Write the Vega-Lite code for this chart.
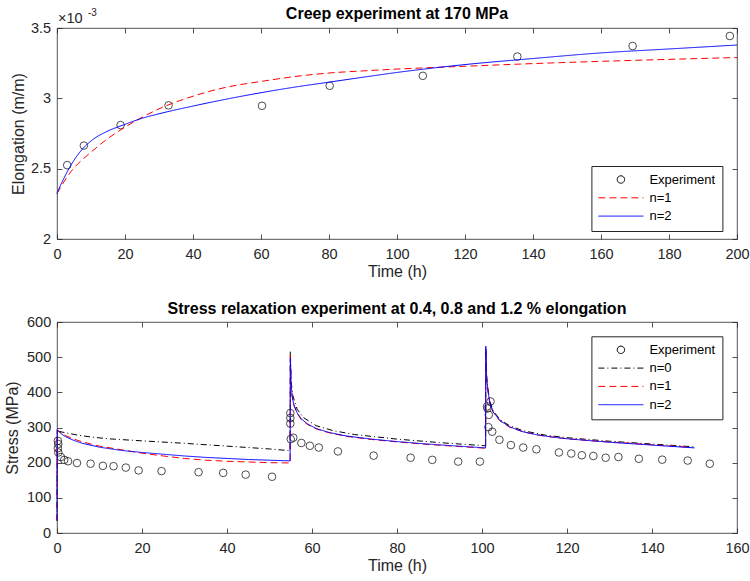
{
  "$schema": "https://vega.github.io/schema/vega-lite/v6.json",
  "padding": {"left": 4, "top": 5, "right": 0, "bottom": 0},
  "config": {
    "font": "Liberation Sans",
    "view": {"stroke": "#262626", "strokeWidth": 0.8},
    "axis": {"grid": false, "domain": false, "tickSize": -5, "tickColor": "#262626", "tickWidth": 0.8,
      "labelFont": "Liberation Sans", "labelFontSize": 14.5, "labelColor": "#262626",
      "titleFont": "Liberation Sans", "titleFontSize": 16, "titleFontWeight": "normal", "titleColor": "#262626",
      "labelFlush": false, "labelOverlap": false},
    "axisX": {"labelPadding": 13, "titlePadding": 3},
    "axisY": {"labelPadding": 11.3, "titlePadding": 6},
    "title": {"font": "Liberation Sans", "fontSize": 16, "fontWeight": "bold", "color": "#000000", "frame": "group", "anchor": "middle"},
    "legend": {"labelFont": "Liberation Sans", "labelFontSize": 13, "labelColor": "#000000", "strokeColor": "#262626", "fillColor": "#ffffff",
      "padding": 7, "rowPadding": 4.3, "symbolSize": 100, "symbolStrokeWidth": 1, "symbolOffset": 16, "labelOffset": 22}
  },
  "spacing": 83,
  "bounds": "flush",
  "resolve": {"scale": {"color": "independent", "strokeDash": "independent", "x": "independent", "y": "independent"}},
  "vconcat": [
    {
      "width": 680, "height": 211,
      "title": {"text": "Creep experiment at 170 MPa", "offset": -14},
      "data": {"values": [
        {"series": "Experiment", "t": 3, "e": 0.002525},
        {"series": "Experiment", "t": 7.9, "e": 0.002664},
        {"series": "Experiment", "t": 18.7, "e": 0.00281},
        {"series": "Experiment", "t": 32.8, "e": 0.00295},
        {"series": "Experiment", "t": 60.3, "e": 0.002947},
        {"series": "Experiment", "t": 80.2, "e": 0.003089},
        {"series": "Experiment", "t": 107.6, "e": 0.00316},
        {"series": "Experiment", "t": 135.4, "e": 0.003297},
        {"series": "Experiment", "t": 169.3, "e": 0.003372},
        {"series": "Experiment", "t": 197.9, "e": 0.003443},
        {"series": "n=1", "t": 0, "e": 0.002323},
        {"series": "n=1", "t": 1, "e": 0.002365},
        {"series": "n=1", "t": 2, "e": 0.002405},
        {"series": "n=1", "t": 3.5, "e": 0.00246},
        {"series": "n=1", "t": 5, "e": 0.002505},
        {"series": "n=1", "t": 7.5, "e": 0.002565},
        {"series": "n=1", "t": 10, "e": 0.002617},
        {"series": "n=1", "t": 15, "e": 0.002715},
        {"series": "n=1", "t": 20, "e": 0.002795},
        {"series": "n=1", "t": 25, "e": 0.002865},
        {"series": "n=1", "t": 30, "e": 0.002925},
        {"series": "n=1", "t": 40, "e": 0.003015},
        {"series": "n=1", "t": 50, "e": 0.00308},
        {"series": "n=1", "t": 60, "e": 0.00312},
        {"series": "n=1", "t": 70, "e": 0.003155},
        {"series": "n=1", "t": 80, "e": 0.00318},
        {"series": "n=1", "t": 90, "e": 0.003195},
        {"series": "n=1", "t": 100, "e": 0.003208},
        {"series": "n=1", "t": 120, "e": 0.003228},
        {"series": "n=1", "t": 140, "e": 0.003247},
        {"series": "n=1", "t": 160, "e": 0.003263},
        {"series": "n=1", "t": 180, "e": 0.003277},
        {"series": "n=1", "t": 200, "e": 0.00329},
        {"series": "n=2", "t": 0, "e": 0.002323},
        {"series": "n=2", "t": 1, "e": 0.00238},
        {"series": "n=2", "t": 2, "e": 0.00243},
        {"series": "n=2", "t": 3.5, "e": 0.0025},
        {"series": "n=2", "t": 5, "e": 0.00256},
        {"series": "n=2", "t": 7.5, "e": 0.00264},
        {"series": "n=2", "t": 10, "e": 0.002697},
        {"series": "n=2", "t": 15, "e": 0.002768},
        {"series": "n=2", "t": 20, "e": 0.002815},
        {"series": "n=2", "t": 25, "e": 0.002858},
        {"series": "n=2", "t": 30, "e": 0.00289},
        {"series": "n=2", "t": 40, "e": 0.002945},
        {"series": "n=2", "t": 50, "e": 0.002995},
        {"series": "n=2", "t": 60, "e": 0.00304},
        {"series": "n=2", "t": 70, "e": 0.00308},
        {"series": "n=2", "t": 80, "e": 0.003115},
        {"series": "n=2", "t": 90, "e": 0.00315},
        {"series": "n=2", "t": 100, "e": 0.003184},
        {"series": "n=2", "t": 120, "e": 0.00324},
        {"series": "n=2", "t": 140, "e": 0.003283},
        {"series": "n=2", "t": 160, "e": 0.003323},
        {"series": "n=2", "t": 180, "e": 0.003351},
        {"series": "n=2", "t": 200, "e": 0.003379}
      ]},
      "resolve": {"axis": {"x": "independent", "y": "independent"}},
      "layer": [
        {
          "transform": [{"filter": "datum.series === 'Experiment'"}],
          "mark": {"type": "point", "filled": false, "size": 58, "strokeWidth": 1},
          "encoding": {
            "x": {"field": "t", "type": "quantitative", "scale": {"domain": [0, 200], "nice": false}, "axis": {"orient": "bottom", "title": "Time (h)", "values": [0, 20, 40, 60, 80, 100, 120, 140, 160, 180, 200]}},
            "y": {"field": "e", "type": "quantitative", "scale": {"domain": [0.002, 0.0035], "nice": false, "zero": false}, "axis": {"orient": "left", "title": "Elongation (m/m)", "titlePadding": 4, "values": [0.002, 0.0025, 0.003, 0.0035], "labelExpr": "format(datum.value*1000, '~g')"}},
            "color": {"field": "series", "type": "nominal", "scale": {"domain": ["Experiment", "n=1", "n=2"], "range": ["#000000", "#ff0000", "#0000ff"]},
              "legend": {"title": null, "orient": "none", "legendX": 534.4, "legendY": 138,
                "encode": {"symbols": {"update": {"shape": {"signal": "datum.value === 'Experiment' ? 'M0.74,0A0.74,0.74,0,1,1,-0.74,0A0.74,0.74,0,1,1,0.74,0Z' : 'M-4.5,0L4.5,0'"}, "fill": {"value": "transparent"}, "strokeWidth": {"value": 1}}}}}}
          }
        },
        {
          "transform": [{"filter": "datum.series !== 'Experiment'"}],
          "mark": {"type": "line", "strokeWidth": 1, "interpolate": "monotone"},
          "encoding": {
            "x": {"field": "t", "type": "quantitative", "axis": {"orient": "top", "title": null, "labels": false, "values": [0, 20, 40, 60, 80, 100, 120, 140, 160, 180, 200]}},
            "y": {"field": "e", "type": "quantitative", "axis": {"orient": "right", "title": null, "labels": false, "values": [0.002, 0.0025, 0.003, 0.0035]}},
            "color": {"field": "series", "type": "nominal"},
            "strokeDash": {"field": "series", "type": "nominal", "scale": {"domain": ["Experiment", "n=1", "n=2"], "range": [[1, 0], [7, 4], [1, 0]]},
              "legend": {"title": null, "orient": "none", "legendX": 534.4, "legendY": 138,
                "encode": {"symbols": {"update": {"shape": {"signal": "datum.value === 'Experiment' ? 'M0.74,0A0.74,0.74,0,1,1,-0.74,0A0.74,0.74,0,1,1,0.74,0Z' : 'M-4.5,0L4.5,0'"}, "fill": {"value": "transparent"}, "strokeWidth": {"value": 1}}}}}}
          }
        },
        {
          "data": {"values": [{"label": "×10"}]},
          "mark": {"type": "text", "align": "left", "baseline": "alphabetic", "dx": 1, "dy": -5, "fontSize": 14.5, "color": "#262626"},
          "encoding": {
            "x": {"datum": 0, "type": "quantitative", "axis": null},
            "y": {"datum": 0.0035, "type": "quantitative", "axis": null},
            "text": {"field": "label"}
          }
        },
        {
          "data": {"values": [{"label": "-3"}]},
          "mark": {"type": "text", "align": "left", "baseline": "alphabetic", "dx": 31, "dy": -12, "fontSize": 10, "color": "#262626"},
          "encoding": {
            "x": {"datum": 0, "type": "quantitative", "axis": null},
            "y": {"datum": 0.0035, "type": "quantitative", "axis": null},
            "text": {"field": "label"}
          }
        }
      ]
    },
    {
      "width": 680, "height": 211,
      "title": {"text": "Stress relaxation experiment at 0.4, 0.8 and 1.2 % elongation", "offset": -3},
      "data": {"values": [
        {"series": "Experiment", "t": 0.2, "s": 262},
        {"series": "Experiment", "t": 0.3, "s": 253},
        {"series": "Experiment", "t": 0.2, "s": 241},
        {"series": "Experiment", "t": 0.3, "s": 229},
        {"series": "Experiment", "t": 0.9, "s": 216},
        {"series": "Experiment", "t": 1.7, "s": 208},
        {"series": "Experiment", "t": 2.6, "s": 204},
        {"series": "Experiment", "t": 4.7, "s": 199},
        {"series": "Experiment", "t": 7.9, "s": 197},
        {"series": "Experiment", "t": 10.8, "s": 191},
        {"series": "Experiment", "t": 13.3, "s": 190},
        {"series": "Experiment", "t": 16.2, "s": 186},
        {"series": "Experiment", "t": 19.2, "s": 178},
        {"series": "Experiment", "t": 24.6, "s": 176},
        {"series": "Experiment", "t": 33.3, "s": 173},
        {"series": "Experiment", "t": 39.1, "s": 171},
        {"series": "Experiment", "t": 44.4, "s": 166},
        {"series": "Experiment", "t": 50.6, "s": 160},
        {"series": "Experiment", "t": 54.9, "s": 341},
        {"series": "Experiment", "t": 54.9, "s": 327},
        {"series": "Experiment", "t": 54.9, "s": 311},
        {"series": "Experiment", "t": 55.0, "s": 267},
        {"series": "Experiment", "t": 55.6, "s": 271},
        {"series": "Experiment", "t": 57.5, "s": 256},
        {"series": "Experiment", "t": 59.5, "s": 248},
        {"series": "Experiment", "t": 61.6, "s": 243},
        {"series": "Experiment", "t": 66.1, "s": 232},
        {"series": "Experiment", "t": 74.5, "s": 220},
        {"series": "Experiment", "t": 83.2, "s": 214},
        {"series": "Experiment", "t": 88.3, "s": 208},
        {"series": "Experiment", "t": 94.4, "s": 203},
        {"series": "Experiment", "t": 99.5, "s": 203},
        {"series": "Experiment", "t": 101.2, "s": 360},
        {"series": "Experiment", "t": 101.3, "s": 354},
        {"series": "Experiment", "t": 101.6, "s": 336},
        {"series": "Experiment", "t": 102.0, "s": 374},
        {"series": "Experiment", "t": 101.5, "s": 301},
        {"series": "Experiment", "t": 102.4, "s": 288},
        {"series": "Experiment", "t": 104.1, "s": 265},
        {"series": "Experiment", "t": 106.8, "s": 250},
        {"series": "Experiment", "t": 109.7, "s": 243},
        {"series": "Experiment", "t": 112.8, "s": 238},
        {"series": "Experiment", "t": 118.1, "s": 229},
        {"series": "Experiment", "t": 121.0, "s": 226},
        {"series": "Experiment", "t": 123.5, "s": 221},
        {"series": "Experiment", "t": 126.2, "s": 219},
        {"series": "Experiment", "t": 129.1, "s": 214},
        {"series": "Experiment", "t": 132.1, "s": 216},
        {"series": "Experiment", "t": 136.9, "s": 211},
        {"series": "Experiment", "t": 142.4, "s": 208.5},
        {"series": "Experiment", "t": 148.4, "s": 206},
        {"series": "Experiment", "t": 153.6, "s": 197},
        {"series": "n=0", "t": 0, "s": 35},
        {"series": "n=0", "t": 0.05, "s": 290},
        {"series": "n=0", "t": 2, "s": 285},
        {"series": "n=0", "t": 5, "s": 278},
        {"series": "n=0", "t": 8, "s": 273},
        {"series": "n=0", "t": 12, "s": 268},
        {"series": "n=0", "t": 20, "s": 262},
        {"series": "n=0", "t": 30, "s": 255},
        {"series": "n=0", "t": 40, "s": 247},
        {"series": "n=0", "t": 50, "s": 239},
        {"series": "n=0", "t": 54.85, "s": 234},
        {"series": "n=0", "t": 54.9, "s": 519},
        {"series": "n=0", "t": 55.1, "s": 430},
        {"series": "n=0", "t": 55.5, "s": 390},
        {"series": "n=0", "t": 56.5, "s": 352},
        {"series": "n=0", "t": 58, "s": 328},
        {"series": "n=0", "t": 61, "s": 305},
        {"series": "n=0", "t": 65, "s": 291},
        {"series": "n=0", "t": 70, "s": 280},
        {"series": "n=0", "t": 80, "s": 267},
        {"series": "n=0", "t": 90, "s": 257},
        {"series": "n=0", "t": 100.85, "s": 248},
        {"series": "n=0", "t": 100.9, "s": 527},
        {"series": "n=0", "t": 101.1, "s": 445},
        {"series": "n=0", "t": 101.4, "s": 410},
        {"series": "n=0", "t": 101.8, "s": 377},
        {"series": "n=0", "t": 102.6, "s": 348},
        {"series": "n=0", "t": 104.2, "s": 323},
        {"series": "n=0", "t": 106.5, "s": 305},
        {"series": "n=0", "t": 109.6, "s": 291},
        {"series": "n=0", "t": 115, "s": 278},
        {"series": "n=0", "t": 120, "s": 271},
        {"series": "n=0", "t": 125, "s": 266},
        {"series": "n=0", "t": 130, "s": 261},
        {"series": "n=0", "t": 135, "s": 257},
        {"series": "n=0", "t": 140, "s": 253},
        {"series": "n=0", "t": 145, "s": 249},
        {"series": "n=0", "t": 150, "s": 245},
        {"series": "n=1", "t": 0, "s": 35},
        {"series": "n=1", "t": 0.05, "s": 292},
        {"series": "n=1", "t": 1, "s": 284},
        {"series": "n=1", "t": 2, "s": 277},
        {"series": "n=1", "t": 4, "s": 267},
        {"series": "n=1", "t": 6, "s": 259},
        {"series": "n=1", "t": 10, "s": 247},
        {"series": "n=1", "t": 15, "s": 237},
        {"series": "n=1", "t": 20, "s": 227},
        {"series": "n=1", "t": 25, "s": 219},
        {"series": "n=1", "t": 30, "s": 212},
        {"series": "n=1", "t": 35, "s": 207},
        {"series": "n=1", "t": 40, "s": 204},
        {"series": "n=1", "t": 45, "s": 202},
        {"series": "n=1", "t": 50, "s": 200},
        {"series": "n=1", "t": 54.85, "s": 199},
        {"series": "n=1", "t": 54.9, "s": 505},
        {"series": "n=1", "t": 55.1, "s": 418},
        {"series": "n=1", "t": 55.3, "s": 390},
        {"series": "n=1", "t": 55.7, "s": 364},
        {"series": "n=1", "t": 56.5, "s": 340},
        {"series": "n=1", "t": 57.5, "s": 322},
        {"series": "n=1", "t": 59, "s": 308},
        {"series": "n=1", "t": 61, "s": 296},
        {"series": "n=1", "t": 64, "s": 285},
        {"series": "n=1", "t": 68, "s": 275},
        {"series": "n=1", "t": 74, "s": 266},
        {"series": "n=1", "t": 80, "s": 259},
        {"series": "n=1", "t": 86, "s": 253},
        {"series": "n=1", "t": 92, "s": 248},
        {"series": "n=1", "t": 97, "s": 244},
        {"series": "n=1", "t": 100.85, "s": 241},
        {"series": "n=1", "t": 100.9, "s": 520},
        {"series": "n=1", "t": 101.1, "s": 438},
        {"series": "n=1", "t": 101.4, "s": 404},
        {"series": "n=1", "t": 101.8, "s": 371},
        {"series": "n=1", "t": 102.6, "s": 344},
        {"series": "n=1", "t": 104.2, "s": 319},
        {"series": "n=1", "t": 106.5, "s": 301},
        {"series": "n=1", "t": 109.6, "s": 288},
        {"series": "n=1", "t": 113, "s": 279},
        {"series": "n=1", "t": 117, "s": 272},
        {"series": "n=1", "t": 120, "s": 268},
        {"series": "n=1", "t": 125, "s": 263},
        {"series": "n=1", "t": 130, "s": 259},
        {"series": "n=1", "t": 135, "s": 255},
        {"series": "n=1", "t": 140, "s": 251},
        {"series": "n=1", "t": 145, "s": 247},
        {"series": "n=1", "t": 149, "s": 244},
        {"series": "n=2", "t": 0, "s": 35},
        {"series": "n=2", "t": 0.05, "s": 294},
        {"series": "n=2", "t": 1, "s": 282},
        {"series": "n=2", "t": 2, "s": 274},
        {"series": "n=2", "t": 4, "s": 263},
        {"series": "n=2", "t": 6, "s": 255},
        {"series": "n=2", "t": 10, "s": 244},
        {"series": "n=2", "t": 15, "s": 235},
        {"series": "n=2", "t": 20, "s": 229},
        {"series": "n=2", "t": 25, "s": 224},
        {"series": "n=2", "t": 30, "s": 219},
        {"series": "n=2", "t": 35, "s": 215},
        {"series": "n=2", "t": 40, "s": 212},
        {"series": "n=2", "t": 45, "s": 209},
        {"series": "n=2", "t": 50, "s": 207},
        {"series": "n=2", "t": 54.85, "s": 205},
        {"series": "n=2", "t": 54.9, "s": 497},
        {"series": "n=2", "t": 55.1, "s": 420},
        {"series": "n=2", "t": 55.3, "s": 392},
        {"series": "n=2", "t": 55.7, "s": 366},
        {"series": "n=2", "t": 56.5, "s": 342},
        {"series": "n=2", "t": 57.5, "s": 324},
        {"series": "n=2", "t": 59, "s": 310},
        {"series": "n=2", "t": 61, "s": 297},
        {"series": "n=2", "t": 64, "s": 286},
        {"series": "n=2", "t": 68, "s": 276},
        {"series": "n=2", "t": 74, "s": 267},
        {"series": "n=2", "t": 80, "s": 260},
        {"series": "n=2", "t": 86, "s": 254},
        {"series": "n=2", "t": 92, "s": 249},
        {"series": "n=2", "t": 97, "s": 245},
        {"series": "n=2", "t": 100.85, "s": 242},
        {"series": "n=2", "t": 100.9, "s": 531},
        {"series": "n=2", "t": 101.1, "s": 440},
        {"series": "n=2", "t": 101.4, "s": 406},
        {"series": "n=2", "t": 101.8, "s": 373},
        {"series": "n=2", "t": 102.6, "s": 345},
        {"series": "n=2", "t": 104.2, "s": 320},
        {"series": "n=2", "t": 106.5, "s": 302},
        {"series": "n=2", "t": 109.6, "s": 288},
        {"series": "n=2", "t": 113, "s": 279},
        {"series": "n=2", "t": 117, "s": 272},
        {"series": "n=2", "t": 120, "s": 268},
        {"series": "n=2", "t": 125, "s": 263},
        {"series": "n=2", "t": 130, "s": 258},
        {"series": "n=2", "t": 135, "s": 254},
        {"series": "n=2", "t": 140, "s": 250},
        {"series": "n=2", "t": 145, "s": 246},
        {"series": "n=2", "t": 150, "s": 242}
      ]},
      "resolve": {"axis": {"x": "independent", "y": "independent"}},
      "layer": [
        {
          "transform": [{"filter": "datum.series === 'Experiment'"}],
          "mark": {"type": "point", "filled": false, "size": 58, "strokeWidth": 1},
          "encoding": {
            "x": {"field": "t", "type": "quantitative", "scale": {"domain": [0, 160], "nice": false}, "axis": {"orient": "bottom", "title": "Time (h)", "values": [0, 20, 40, 60, 80, 100, 120, 140, 160]}},
            "y": {"field": "s", "type": "quantitative", "scale": {"domain": [0, 600], "nice": false}, "axis": {"orient": "left", "title": "Stress (MPa)", "titlePadding": 6, "values": [0, 100, 200, 300, 400, 500, 600]}},
            "color": {"field": "series", "type": "nominal", "scale": {"domain": ["Experiment", "n=0", "n=1", "n=2"], "range": ["#000000", "#010101", "#ff0000", "#0000ff"]},
              "legend": {"title": null, "orient": "none", "legendX": 534.4, "legendY": 14.3,
                "encode": {"symbols": {"update": {"shape": {"signal": "datum.value === 'Experiment' ? 'M0.74,0A0.74,0.74,0,1,1,-0.74,0A0.74,0.74,0,1,1,0.74,0Z' : 'M-4.5,0L4.5,0'"}, "fill": {"value": "transparent"}, "strokeWidth": {"value": 1}}}}}}
          }
        },
        {
          "transform": [{"filter": "datum.series !== 'Experiment'"}],
          "mark": {"type": "line", "strokeWidth": 1},
          "encoding": {
            "x": {"field": "t", "type": "quantitative", "axis": {"orient": "top", "title": null, "labels": false, "values": [0, 20, 40, 60, 80, 100, 120, 140, 160]}},
            "y": {"field": "s", "type": "quantitative", "axis": {"orient": "right", "title": null, "labels": false, "values": [0, 100, 200, 300, 400, 500, 600]}},
            "color": {"field": "series", "type": "nominal"},
            "strokeDash": {"field": "series", "type": "nominal", "scale": {"domain": ["Experiment", "n=0", "n=1", "n=2"], "range": [[1, 0], [6, 3, 1, 3], [7, 4], [1, 0]]},
              "legend": {"title": null, "orient": "none", "legendX": 534.4, "legendY": 14.3,
                "encode": {"symbols": {"update": {"shape": {"signal": "datum.value === 'Experiment' ? 'M0.74,0A0.74,0.74,0,1,1,-0.74,0A0.74,0.74,0,1,1,0.74,0Z' : 'M-4.5,0L4.5,0'"}, "fill": {"value": "transparent"}, "strokeWidth": {"value": 1}}}}}}
          }
        }
      ]
    }
  ]
}
